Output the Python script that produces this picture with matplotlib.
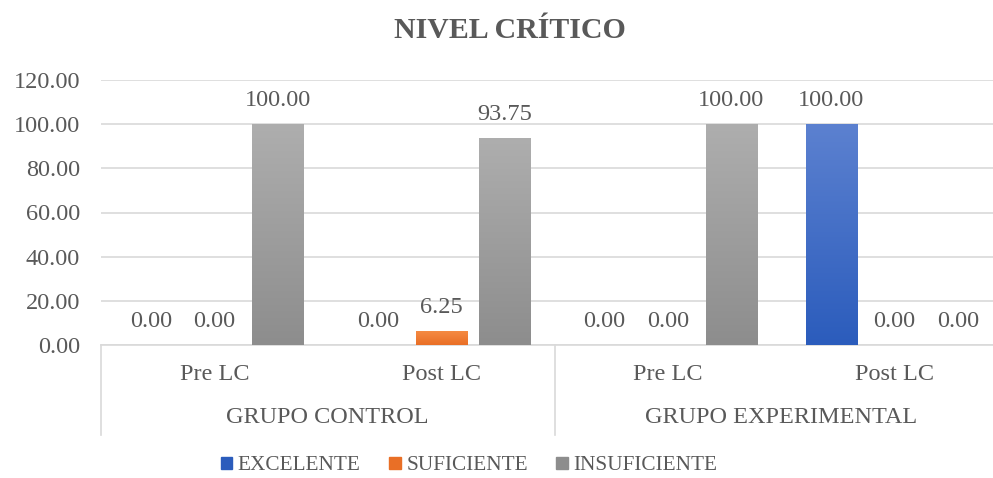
import numpy as np
import matplotlib.pyplot as plt
import matplotlib.transforms as mtransforms
from matplotlib.colors import LinearSegmentedColormap
from matplotlib.patches import Rectangle
from matplotlib.lines import Line2D

plt.rcParams['font.family'] = ['Liberation Serif', 'DejaVu Serif']

grupos = ['GRUPO CONTROL', 'GRUPO EXPERIMENTAL']
momentos = ['Pre LC', 'Post LC', 'Pre LC', 'Post LC']
series = ['EXCELENTE', 'SUFICIENTE', 'INSUFICIENTE']
excelente = [0.00, 0.00, 0.00, 100.00]
suficiente = [0.00, 6.25, 0.00, 0.00]
insuficiente = [100.00, 93.75, 100.00, 0.00]
yticks = [0, 20, 40, 60, 80, 100, 120]

# degradados (arriba, abajo) como en Excel
colores = [('#5c81d0', '#2b5cbc'), ('#f58a42', '#e96f26'), ('#aeaeae', '#8d8d8d')]
gris_texto = '#595959'
gris_linea = '#d9d9d9'

fig = plt.figure(figsize=(9.93, 4.78), dpi=100)
# el area de trazado se sale un poco por la derecha, como en la captura
ax = fig.add_axes([101 / 993, 133 / 478, 907 / 993, 265 / 478])

x = np.arange(len(momentos)) + 0.5
ancho = 0.225
paso = 0.279

for i, (vals, (c1, c2)) in enumerate(zip([excelente, suficiente, insuficiente], colores)):
    barras = ax.bar(x + (i - 1) * paso, vals, width=ancho, color=c2, zorder=3)
    cmap = LinearSegmentedColormap.from_list('g%d' % i, [c2, c1])
    for b, v in zip(barras, vals):
        if v > 0:
            grad = np.linspace(0, 1, 256).reshape(-1, 1)
            im = ax.imshow(grad, cmap=cmap, origin='lower', aspect='auto', zorder=4,
                           extent=[b.get_x(), b.get_x() + b.get_width(), 0, v])
            im.set_clip_path(b)
        ax.annotate('%.2f' % v, (b.get_x() + b.get_width() / 2, v), xytext=(0, 17),
                    textcoords='offset points', ha='center', va='center',
                    fontsize=17.5, color=gris_texto)

ax.set_xlim(0, len(momentos))
ax.set_ylim(0, 120)
ax.set_yticks(yticks)
ax.set_yticklabels(['%.2f' % t for t in yticks])
ax.tick_params(axis='y', length=0, pad=15, labelsize=17.5, labelcolor=gris_texto)
ax.set_xticks([])
ax.grid(axis='y', color=gris_linea, linewidth=1.2, zorder=0)
ax.set_axisbelow(True)
for s in ['top', 'right', 'left']:
    ax.spines[s].set_visible(False)
ax.spines['bottom'].set_color(gris_linea)
ax.spines['bottom'].set_linewidth(1.2)

# eje de categorias en dos niveles
tr = mtransforms.blended_transform_factory(ax.transData, ax.transAxes)
for xi, m in zip(x, momentos):
    ax.text(xi, -0.113, m, transform=tr, ha='center', va='center',
            fontsize=17.5, color=gris_texto)
for g, nombre in enumerate(grupos):
    ax.text(2 * g + 1, -0.275, nombre, transform=tr, ha='center', va='center',
            fontsize=17.5, color=gris_texto)
for xs in [0, 2, 4]:
    ax.add_line(Line2D([xs, xs], [0, -0.34], transform=tr, color=gris_linea,
                       linewidth=1.2, clip_on=False))

fig.text(510 / 993, 1 - 31 / 478, 'NIVEL CRÍTICO', ha='center', va='center',
         fontsize=21.5, fontweight='bold', color=gris_texto)

handles = [Rectangle((0, 0), 1, 1, color=c[1]) for c in colores]
fig.legend(handles, series, loc='center', bbox_to_anchor=(469 / 993, 1 - 466 / 478),
           ncol=3, frameon=False, fontsize=15.3, handlelength=0.55, handleheight=0.55,
           handletextpad=0.25, columnspacing=1.35, labelcolor=gris_texto,
           borderaxespad=0, borderpad=0)

fig.savefig('out.png', dpi=100)
